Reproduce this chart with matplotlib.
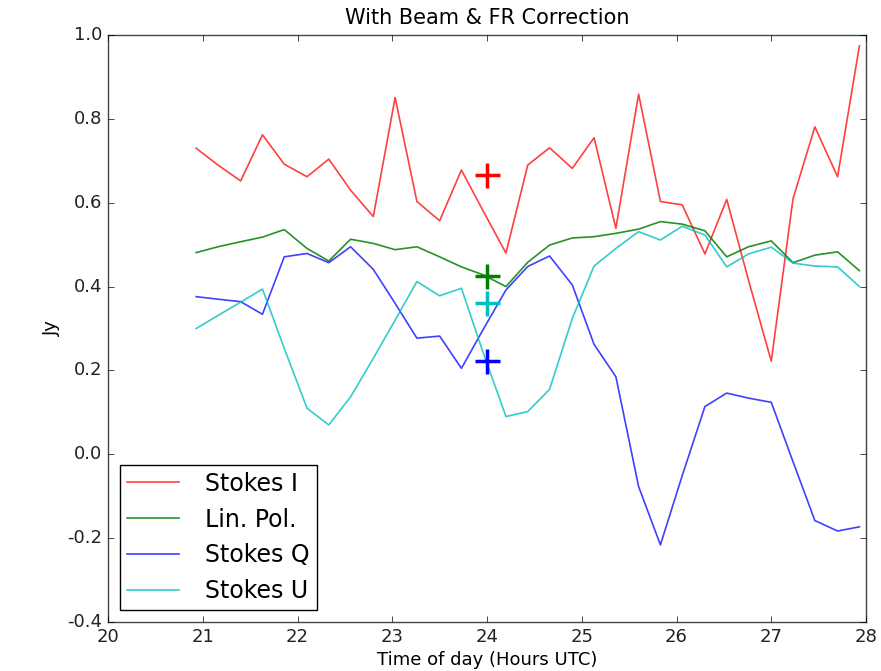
import numpy as np
import matplotlib
matplotlib.use('Agg')
import matplotlib.pyplot as plt

# Time of day (hours UTC), one sample every ~14 minutes
hours = [20.93, 21.16, 21.40, 21.63, 21.86, 22.10, 22.33, 22.56, 22.80, 23.03,
         23.26, 23.50, 23.73, 23.96, 24.20, 24.43, 24.66, 24.90, 25.13, 25.36,
         25.60, 25.83, 26.06, 26.30, 26.53, 26.76, 27.00, 27.23, 27.46, 27.70, 27.93]

stokes_i = [0.730, 0.690, 0.652, 0.762, 0.692, 0.662, 0.704, 0.630, 0.567, 0.851,
            0.603, 0.557, 0.678, 0.580, 0.480, 0.690, 0.731, 0.682, 0.755, 0.539,
            0.859, 0.603, 0.595, 0.478, 0.608, 0.415, 0.222, 0.610, 0.781, 0.662, 0.974]

lin_pol = [0.481, 0.495, 0.507, 0.518, 0.536, 0.491, 0.461, 0.513, 0.503, 0.488,
           0.495, 0.471, 0.447, 0.428, 0.400, 0.458, 0.499, 0.516, 0.519, 0.527,
           0.537, 0.555, 0.549, 0.533, 0.471, 0.495, 0.509, 0.457, 0.475, 0.483, 0.438]

stokes_q = [0.376, 0.370, 0.364, 0.334, 0.471, 0.479, 0.457, 0.495, 0.441, 0.360,
            0.277, 0.282, 0.205, 0.298, 0.392, 0.448, 0.473, 0.404, 0.262, 0.185,
            -0.077, -0.216, -0.051, 0.114, 0.146, 0.134, 0.124, -0.018, -0.158, -0.183, -0.173]

stokes_u = [0.300, 0.331, 0.363, 0.394, 0.253, 0.110, 0.070, 0.137, 0.229, 0.320,
            0.412, 0.378, 0.396, 0.242, 0.090, 0.102, 0.155, 0.324, 0.449, 0.491,
            0.531, 0.511, 0.544, 0.523, 0.447, 0.478, 0.494, 0.456, 0.449, 0.447, 0.400]

# reference values at 24h (plus markers)
ref_time = 24.0
ref_vals = [0.666, 0.426, 0.362, 0.222]
ref_colors = ['r', 'g', 'c', 'b']

plt.style.use('classic')
plt.rcParams['axes.unicode_minus'] = False
fig = plt.figure(figsize=(8.81, 6.71), dpi=100, facecolor='white')
ax = fig.add_axes([0.1226, 0.073, 0.8604, 0.8748])

ax.plot(hours, stokes_i, color='r', alpha=0.75, lw=1.2, label='Stokes I')
ax.plot(hours, lin_pol, color='g', alpha=0.85, lw=1.2, label='Lin. Pol.')
ax.plot(hours, stokes_q, color='b', alpha=0.75, lw=1.2, label='Stokes Q')
ax.plot(hours, stokes_u, color='c', alpha=0.8, lw=1.2, label='Stokes U')

for v, c in zip(ref_vals, ref_colors):
    ax.plot([ref_time], [v], '+', color=c, ms=18, mew=2.5)

ax.set_xlim(20, 28)
ax.set_ylim(-0.4, 1.0)
ax.set_title('With Beam & FR Correction', fontsize=15, pad=8)
ax.set_xlabel('Time of day (Hours UTC)', fontsize=13, labelpad=4)
ax.set_ylabel('Jy', fontsize=13)
ax.tick_params(labelsize=13, labelcolor='#222222')
for spine in ax.spines.values(): spine.set_color('#444444')

leg = ax.legend(loc='lower left', fontsize=17, numpoints=1, handlelength=2.2,
                labelspacing=0.5, handletextpad=1.1, borderpad=0.3,
                borderaxespad=0.5)
leg.get_frame().set_edgecolor('black')

fig.savefig('out.png', dpi=100)
